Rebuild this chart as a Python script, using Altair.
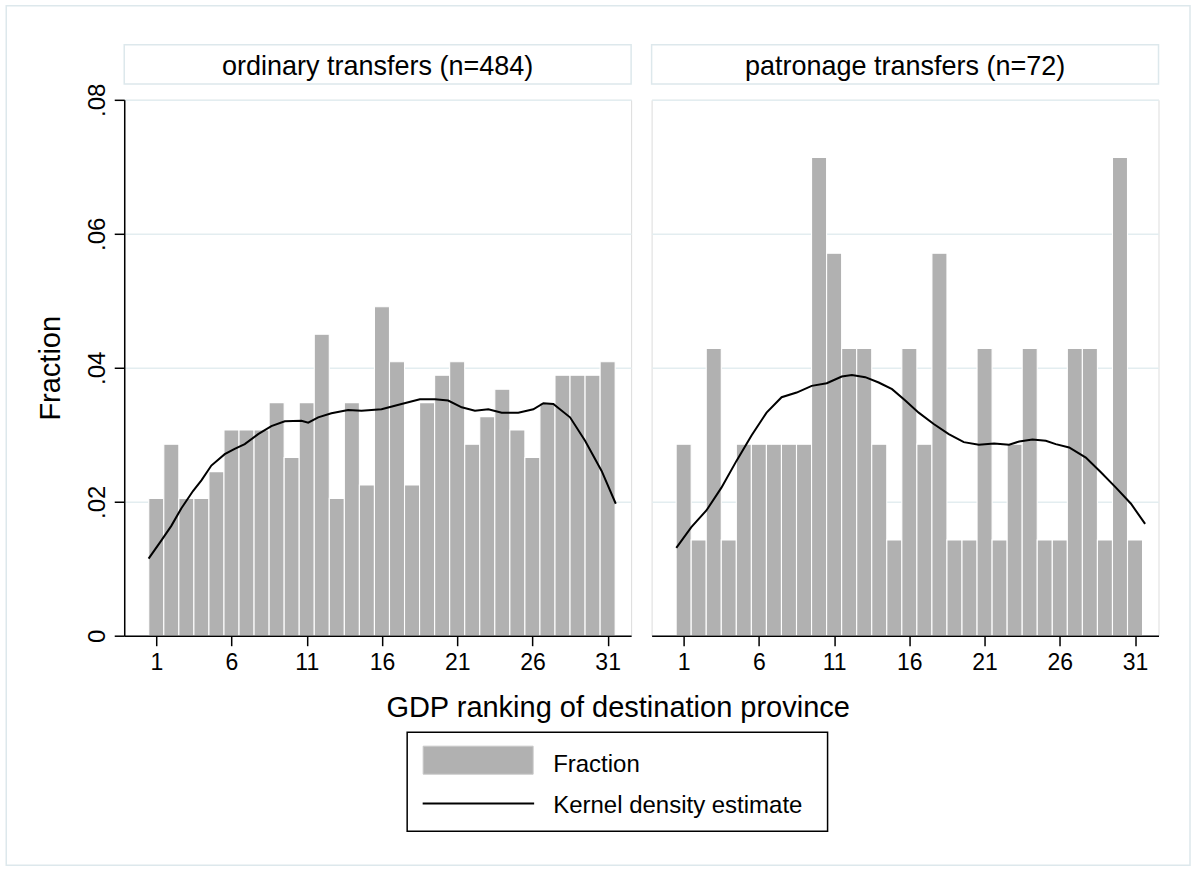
import altair as alt
import pandas as pd

# ---------------- data ----------------
ranks = list(range(1, 32))

ordinary = [0.0205, 0.0286, 0.0205, 0.0205, 0.0245, 0.0307, 0.0307, 0.0307, 0.0348, 0.0266,
            0.0348, 0.0450, 0.0205, 0.0348, 0.0225, 0.0491, 0.0409, 0.0225, 0.0348, 0.0389,
            0.0409, 0.0286, 0.0327, 0.0368, 0.0307, 0.0266, 0.0348, 0.0389, 0.0389, 0.0389,
            0.0409]

patronage = [0.0286, 0.0143, 0.0429, 0.0143, 0.0286, 0.0286, 0.0286, 0.0286, 0.0286, 0.0714,
             0.0571, 0.0429, 0.0429, 0.0286, 0.0143, 0.0429, 0.0286, 0.0571, 0.0143, 0.0143,
             0.0429, 0.0143, 0.0286, 0.0429, 0.0143, 0.0143, 0.0429, 0.0429, 0.0143, 0.0714,
             0.0143]

kde_ord_x = [0.49, 1.33, 2.0, 2.66, 3.44, 4.0, 4.66, 5.55, 6.21, 6.88, 7.77, 8.65, 9.54, 10.65,
             11.1, 11.76, 12.64, 13.75, 14.64, 15.97, 17.3, 18.52, 19.52, 20.4, 21.3, 22.18,
             23.07, 23.96, 25.06, 26.06, 26.73, 27.39, 28.5, 29.5, 30.6, 31.54]
kde_ord_y = [0.0115, 0.0142, 0.0164, 0.0190, 0.0216, 0.0232, 0.0254, 0.0271, 0.0279, 0.0286,
             0.0301, 0.0313, 0.0320, 0.0321, 0.0318, 0.0326, 0.0332, 0.0337, 0.0336, 0.0338,
             0.0346, 0.0353, 0.0353, 0.0351, 0.0341, 0.0336, 0.0338, 0.0333, 0.0333, 0.0338,
             0.0347, 0.0346, 0.0326, 0.0291, 0.0246, 0.0197]

kde_pat_x = [0.51, 1.51, 2.51, 3.51, 4.51, 5.51, 6.51, 7.51, 8.51, 9.51, 10.51, 11.51, 12.18,
             13.07, 13.96, 14.85, 15.73, 16.62, 17.62, 18.62, 19.62, 20.62, 21.63, 22.63, 23.3,
             24.18, 25.07, 25.73, 26.62, 27.73, 28.73, 29.73, 30.73, 31.67]
kde_pat_y = [0.0131, 0.0162, 0.0187, 0.0221, 0.0261, 0.0299, 0.0333, 0.0356, 0.0363, 0.0373,
             0.0377, 0.0387, 0.0389, 0.0386, 0.0378, 0.0368, 0.0351, 0.0333, 0.0316, 0.0301,
             0.0289, 0.0285, 0.0287, 0.0285, 0.0290, 0.0293, 0.0291, 0.0286, 0.0281, 0.0266,
             0.0244, 0.0221, 0.0197, 0.0167]

panel_titles = ["ordinary transfers (n=484)", "patronage transfers (n=72)"]
x_ticks = [1, 6, 11, 16, 21, 26, 31]
y_ticks = [0, 0.02, 0.04, 0.06, 0.08]
legend_labels = ["Fraction", "Kernel density estimate"]
x_title = "GDP ranking of destination province"
y_title = "Fraction"

# ---------------- styling ----------------
FONT = "Liberation Sans"
PW, PH = 507, 536
XDOM = [-1.13, 32.56]
YDOM = [0, 0.08]
GRID = "#e3edf0"
FRAME = "#dde8ec"
BAR = "#b1b1b1"


def one(text):
    return pd.DataFrame({"t": [text]})


def panel(frac, kx, ky, title, left):
    bars_df = pd.DataFrame({"rank": ranks, "frac": frac})
    bars_df["lo"] = bars_df["rank"] - 0.5
    bars_df["hi"] = bars_df["rank"] + 0.5
    kde_df = pd.DataFrame({"x": kx, "y": ky})

    xscale = alt.Scale(domain=XDOM, nice=False, zero=False)
    yscale = alt.Scale(domain=YDOM, nice=False, zero=False)
    xax = alt.Axis(values=x_ticks, title=None, grid=False, domainColor="black", domainWidth=1.5,
                   tickColor="black", tickWidth=1.5, tickSize=10, labelFontSize=23,
                   labelColor="black", labelPadding=6, labelFont=FONT, zindex=1)
    if left:
        yax = alt.Axis(values=y_ticks, title=y_title, grid=True, gridColor=GRID, gridWidth=1.5,
                       domainColor="black", domainWidth=1.5, tickColor="black", tickWidth=1.5,
                       tickSize=10, labelFontSize=24, labelColor="black", labelAngle=270,
                       labelAlign="center", labelBaseline="alphabetic", labelPadding=10,
                       labelFont=FONT,
                       labelExpr="datum.value == 0 ? '0' : replace(format(datum.value, '.2f'), '0.', '.')",
                       titleFontSize=29, titleFontWeight="normal", titleColor="black",
                       titleFont=FONT, titlePadding=26, titleBaseline="alphabetic")
    else:
        yax = alt.Axis(values=y_ticks, title=None, grid=True, gridColor=GRID, gridWidth=1.5,
                       domain=False, ticks=False, labels=False)

    bars = alt.Chart(bars_df).mark_rect(fill=BAR, stroke="white", strokeWidth=1.1).encode(
        x=alt.X("lo:Q", scale=xscale, axis=xax),
        x2="hi:Q",
        y=alt.Y("frac:Q", scale=yscale, axis=yax),
        y2=alt.datum(0),
    )
    line = alt.Chart(kde_df).mark_line(color="black", strokeWidth=2).encode(
        x=alt.X("x:Q", scale=xscale, axis=xax),
        y=alt.Y("y:Q", scale=yscale, axis=yax),
    )
    head_box = alt.Chart(one(title)).mark_rect(fill="white", stroke=FRAME, strokeWidth=1.5).encode(
        x=alt.value(0), x2=alt.value(PW), y=alt.value(-55.2), y2=alt.value(-15.8)
    )
    head_txt = alt.Chart(one(title)).mark_text(font=FONT, fontSize=27, color="black",
                                               align="center", baseline="alphabetic").encode(
        x=alt.value(PW / 2), y=alt.value(-25.2), text="t:N"
    )
    layers = [head_box, head_txt, bars, line]

    if left:
        # outer frame of the whole graph
        frame = alt.Chart(one("")).mark_rect(fillOpacity=0, stroke=FRAME, strokeWidth=1.5).encode(
            x=alt.value(-118), x2=alt.value(1066), y=alt.value(-94), y2=alt.value(765.5)
        )
        xt = alt.Chart(one(x_title)).mark_text(font=FONT, fontSize=29, color="black",
                                               align="center", baseline="alphabetic").encode(
            x=alt.value(494), y=alt.value(617.5), text="t:N"
        )
        box = alt.Chart(one("")).mark_rect(fill="white", stroke="black", strokeWidth=1.5).encode(
            x=alt.value(283), x2=alt.value(703.5), y=alt.value(632.5), y2=alt.value(731.5)
        )
        sw = alt.Chart(one(legend_labels[0])).mark_rect(fill=BAR, stroke="#c8c8c8", strokeWidth=1).encode(
            x=alt.value(299), x2=alt.value(409), y=alt.value(646.5), y2=alt.value(674.5)
        )
        ln = alt.Chart(one(legend_labels[1])).mark_rule(color="black", strokeWidth=2).encode(
            x=alt.value(298.5), x2=alt.value(410), y=alt.value(703.8)
        )
        l1 = alt.Chart(one(legend_labels[0])).mark_text(font=FONT, fontSize=24, color="black",
                                                        align="left", baseline="alphabetic").encode(
            x=alt.value(429), y=alt.value(672.2), text="t:N"
        )
        l2 = alt.Chart(one(legend_labels[1])).mark_text(font=FONT, fontSize=24, color="black",
                                                        align="left", baseline="alphabetic").encode(
            x=alt.value(429), y=alt.value(713.8), text="t:N"
        )
        layers = [frame] + layers + [xt, box, sw, ln, l1, l2]

    return alt.layer(*layers).properties(width=PW, height=PH)


left_panel = panel(ordinary, kde_ord_x, kde_ord_y, panel_titles[0], True)
right_panel = panel(patronage, kde_pat_x, kde_pat_y, panel_titles[1], False)

chart = alt.hconcat(left_panel, right_panel, spacing=20.5, bounds="flush").properties(
    padding={"left": 4.25, "top": 3.75, "right": 0, "bottom": 0},
    background="white",
).configure_view(stroke="transparent", strokeWidth=0).configure(font=FONT)

chart.save("out.html", embed_options={"renderer": "svg", "actions": False})
